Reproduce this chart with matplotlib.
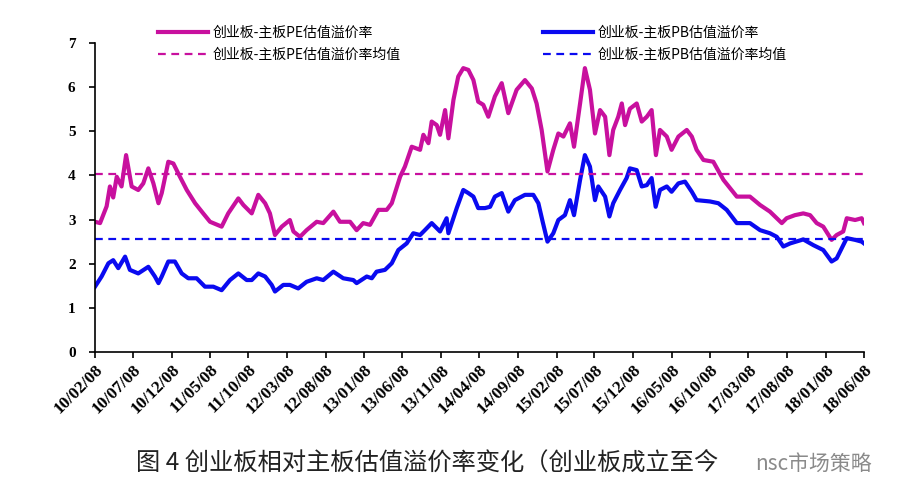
import matplotlib
matplotlib.use("Agg")
import matplotlib.pyplot as plt
import matplotlib.dates as mdates
import pandas as pd

###########################
# Données
###########################

pe_dates = [
    "2010-02-08", "2010-02-28", "2010-03-26", "2010-04-08", "2010-04-21", "2010-05-05",
    "2010-05-24", "2010-06-11", "2010-07-03", "2010-07-29", "2010-08-18", "2010-09-07",
    "2010-09-27", "2010-10-17", "2010-10-30", "2010-11-25", "2010-12-15", "2011-01-10",
    "2011-02-06", "2011-03-11", "2011-04-12", "2011-05-09", "2011-06-24", "2011-07-20",
    "2011-08-29", "2011-09-18", "2011-10-21", "2011-11-16", "2011-12-13", "2012-01-01",
    "2012-01-21", "2012-02-17", "2012-03-20", "2012-04-03", "2012-04-29", "2012-05-25",
    "2012-07-04", "2012-07-30", "2012-09-08", "2012-10-04", "2012-11-13", "2012-12-09",
    "2013-01-04", "2013-01-31", "2013-03-05", "2013-04-07", "2013-04-27", "2013-05-30",
    "2013-06-18", "2013-07-15", "2013-08-17", "2013-08-30", "2013-09-19", "2013-10-02",
    "2013-10-22", "2013-11-04", "2013-11-24", "2013-12-07", "2013-12-27", "2014-01-15",
    "2014-02-04", "2014-02-24", "2014-03-16", "2014-04-04", "2014-04-24", "2014-05-14",
    "2014-06-09", "2014-07-06", "2014-08-01", "2014-09-03", "2014-10-06", "2014-11-02",
    "2014-11-21", "2014-12-11", "2015-01-03", "2015-01-26", "2015-02-15", "2015-03-07",
    "2015-04-02", "2015-04-18", "2015-05-12", "2015-05-31", "2015-06-20", "2015-07-10",
    "2015-07-30", "2015-08-19", "2015-09-05", "2015-09-20", "2015-10-10", "2015-10-24",
    "2015-11-06", "2015-11-25", "2015-12-22", "2016-01-11", "2016-01-31", "2016-02-19",
    "2016-03-07", "2016-03-23", "2016-04-19", "2016-05-08", "2016-06-04", "2016-07-07",
    "2016-07-27", "2016-08-15", "2016-09-11", "2016-10-20", "2016-11-29", "2017-01-21",
    "2017-03-14", "2017-04-23", "2017-06-01", "2017-07-18", "2017-08-06", "2017-09-08",
    "2017-10-11", "2017-11-07", "2017-12-03", "2017-12-29", "2018-01-31", "2018-02-20",
    "2018-03-18", "2018-04-01", "2018-05-04", "2018-05-30", "2018-06-08",
]
pe_values = [
    2.95, 2.92, 3.30, 3.75, 3.50, 3.97,
    3.75, 4.46, 3.75, 3.67, 3.82, 4.16,
    3.82, 3.37, 3.60, 4.31, 4.27, 3.97,
    3.67, 3.37, 3.14, 2.95, 2.84, 3.14,
    3.48, 3.33, 3.14, 3.56, 3.37, 3.14,
    2.65, 2.84, 2.99, 2.73, 2.61, 2.76,
    2.95, 2.92, 3.18, 2.95, 2.95, 2.76,
    2.92, 2.88, 3.22, 3.22, 3.37, 3.97,
    4.20, 4.65, 4.58, 4.92, 4.73, 5.22,
    5.14, 4.92, 5.48, 4.84, 5.71, 6.24,
    6.43, 6.39, 6.16, 5.67, 5.60, 5.33,
    5.79, 6.09, 5.41, 5.94, 6.16, 5.97,
    5.63, 5.03, 4.09, 4.58, 4.95, 4.88,
    5.18, 4.65, 5.63, 6.43, 5.94, 4.95,
    5.48, 5.33, 4.46, 5.03, 5.33, 5.63,
    5.14, 5.51, 5.63, 5.22, 5.33, 5.48,
    4.46, 5.03, 4.88, 4.58, 4.88, 5.03,
    4.88, 4.58, 4.35, 4.31, 3.90, 3.52,
    3.52, 3.33, 3.18, 2.92, 3.03, 3.10,
    3.14, 3.10, 2.92, 2.84, 2.54, 2.65,
    2.73, 3.03, 2.99, 3.03, 2.92,
]

pb_dates = [
    "2010-02-08", "2010-03-06", "2010-04-02", "2010-04-21", "2010-05-11", "2010-06-07",
    "2010-06-26", "2010-07-29", "2010-09-07", "2010-10-03", "2010-10-17", "2010-10-30",
    "2010-11-25", "2010-12-21", "2011-01-17", "2011-02-12", "2011-03-17", "2011-04-19",
    "2011-05-22", "2011-06-24", "2011-07-27", "2011-08-29", "2011-10-01", "2011-10-21",
    "2011-11-16", "2011-12-13", "2012-01-08", "2012-01-21", "2012-02-23", "2012-03-20",
    "2012-04-22", "2012-05-25", "2012-07-04", "2012-07-30", "2012-09-08", "2012-10-17",
    "2012-11-26", "2012-12-09", "2013-01-18", "2013-02-07", "2013-02-26", "2013-03-31",
    "2013-04-27", "2013-05-23", "2013-06-25", "2013-07-21", "2013-08-17", "2013-09-05",
    "2013-10-02", "2013-11-04", "2013-11-30", "2013-12-07", "2014-01-09", "2014-02-04",
    "2014-02-24", "2014-03-16", "2014-04-04", "2014-05-01", "2014-05-21", "2014-06-09",
    "2014-07-06", "2014-08-01", "2014-08-27", "2014-10-06", "2014-11-08", "2014-11-28",
    "2014-12-15", "2015-01-03", "2015-01-26", "2015-02-15", "2015-03-13", "2015-04-02",
    "2015-04-18", "2015-05-12", "2015-05-31", "2015-06-20", "2015-07-10", "2015-07-23",
    "2015-08-19", "2015-09-05", "2015-09-20", "2015-10-17", "2015-11-12", "2015-11-25",
    "2015-12-22", "2016-01-11", "2016-01-31", "2016-02-19", "2016-03-06", "2016-03-23",
    "2016-04-19", "2016-05-08", "2016-06-04", "2016-06-30", "2016-07-27", "2016-08-15",
    "2016-10-07", "2016-11-09", "2016-12-12", "2017-01-21", "2017-03-14", "2017-04-23",
    "2017-06-01", "2017-06-28", "2017-07-24", "2017-08-20", "2017-10-11", "2017-11-20",
    "2017-12-29", "2018-01-31", "2018-02-20", "2018-03-12", "2018-04-01", "2018-05-04",
    "2018-05-30", "2018-06-08",
]
pb_values = [
    1.48, 1.71, 2.01, 2.08, 1.90, 2.16,
    1.86, 1.78, 1.93, 1.71, 1.56, 1.71,
    2.05, 2.05, 1.78, 1.67, 1.67, 1.48,
    1.48, 1.40, 1.63, 1.78, 1.63, 1.63,
    1.78, 1.71, 1.52, 1.37, 1.52, 1.52,
    1.44, 1.59, 1.67, 1.63, 1.82, 1.67,
    1.63, 1.56, 1.71, 1.67, 1.82, 1.86,
    2.01, 2.31, 2.46, 2.69, 2.65, 2.76,
    2.92, 2.73, 3.03, 2.69, 3.26, 3.67,
    3.60, 3.52, 3.26, 3.26, 3.29, 3.52,
    3.60, 3.18, 3.44, 3.56, 3.56, 3.37,
    2.95, 2.50, 2.69, 2.99, 3.10, 3.44,
    3.10, 3.90, 4.46, 4.20, 3.44, 3.75,
    3.52, 3.07, 3.37, 3.67, 3.94, 4.16,
    4.12, 3.75, 3.78, 3.94, 3.29, 3.67,
    3.75, 3.63, 3.82, 3.86, 3.63, 3.44,
    3.41, 3.37, 3.22, 2.92, 2.92, 2.76,
    2.69, 2.61, 2.39, 2.46, 2.55, 2.42,
    2.31, 2.05, 2.12, 2.35, 2.58, 2.54,
    2.50, 2.46,
]

pe_mean = 4.03
pb_mean = 2.55

tick_dates = pd.date_range("2010-02-08", periods=21, freq=pd.DateOffset(months=5))

label_pe = "创业板-主板PE估值溢价率"
label_pb = "创业板-主板PB估值溢价率"
label_pe_mean = "创业板-主板PE估值溢价率均值"
label_pb_mean = "创业板-主板PB估值溢价率均值"
caption = "图 4 创业板相对主板估值溢价率变化（创业板成立至今"
watermark = "nsc市场策略"

couleur_pe = "#C8109E"
couleur_pb = "#0A0AF0"

###########################
# Figure
###########################

fig = plt.figure(figsize=(9.1, 5.01), dpi=100)
ax = fig.add_axes([0.1044, 0.2974, 0.845, 0.6168])

pe_x = pd.to_datetime(pe_dates)
pb_x = pd.to_datetime(pb_dates)

l1, = ax.plot(pe_x, pe_values, color=couleur_pe, lw=3.0, solid_joinstyle="round")
l2, = ax.plot(pb_x, pb_values, color=couleur_pb, lw=3.0, solid_joinstyle="round")
l3 = ax.axhline(pe_mean, color=couleur_pe, lw=1.6, ls=(0, (3.5, 2.5)))
l4 = ax.axhline(pb_mean, color=couleur_pb, lw=1.6, ls=(0, (3.5, 2.5)))

ax.set_xlim(tick_dates[0], tick_dates[-1])
ax.set_ylim(0, 7)
ax.set_yticks(range(0, 8))
ax.set_xticks(tick_dates)
ax.xaxis.set_major_formatter(mdates.DateFormatter("%y/%m/%d"))

for s in ["top", "right"]:
    ax.spines[s].set_visible(False)
for s in ["left", "bottom"]:
    ax.spines[s].set_linewidth(1.2)

ax.tick_params(axis="both", direction="out", length=4, width=1.2)
ax.tick_params(axis="y", pad=10)
ax.tick_params(axis="x", pad=3)
for lab in ax.get_yticklabels():
    lab.set_fontfamily("Liberation Serif")
    lab.set_fontweight("bold")
    lab.set_fontsize(11)
for lab in ax.get_xticklabels():
    lab.set_fontfamily("Liberation Serif")
    lab.set_fontweight("bold")
    lab.set_fontsize(12.5)
    lab.set_rotation(45)
    lab.set_ha("right")
    lab.set_rotation_mode("anchor")

fig.legend([l1, l3, l2, l4], [label_pe, label_pe_mean, label_pb, label_pb_mean],
           ncol=2, frameon=False, loc="upper left", bbox_to_anchor=(0.163, 0.968),
           prop={"family": ["Noto Sans CJK SC", "DejaVu Sans"], "size": 10},
           handlelength=3.6, handletextpad=0.3, columnspacing=10.3,
           labelspacing=0.55, borderpad=0.2)

fig.text(0.150, 0.074, caption, fontsize=17.5, color="#222222",
         family=["Noto Sans CJK SC", "DejaVu Sans"], va="center", ha="left")
fig.text(0.830, 0.074, watermark, fontsize=15, color="#8a8a8a",
         family=["Noto Sans CJK SC", "DejaVu Sans"], va="center", ha="left")

fig.savefig("out.png", dpi=100)
